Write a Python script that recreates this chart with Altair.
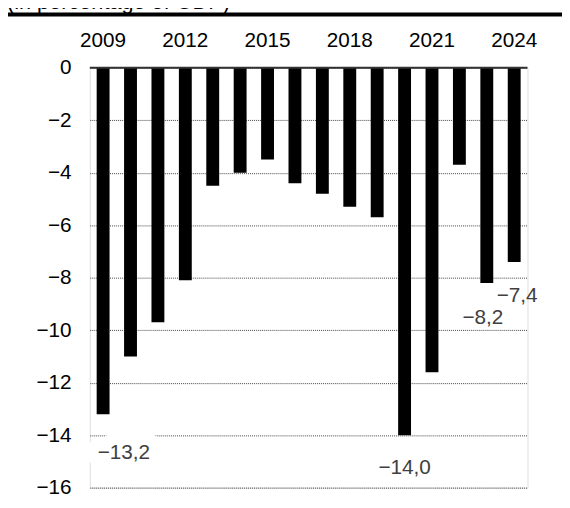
import altair as alt
import pandas as pd

# ---- data ----
years = [2009, 2010, 2011, 2012, 2013, 2014, 2015, 2016,
         2017, 2018, 2019, 2020, 2021, 2022, 2023, 2024]
values = [-13.2, -11.0, -9.7, -8.1, -4.5, -4.0, -3.5, -4.4,
          -4.8, -5.3, -5.7, -14.0, -11.6, -3.7, -8.2, -7.4]
tick_years = [2009, 2012, 2015, 2018, 2021, 2024]
y_ticks = [0, -2, -4, -6, -8, -10, -12, -14, -16]
label_years = [2009, 2020, 2023, 2024]
label_values = [-13.2, -14.0, -8.2, -7.4]
label_texts = ["\u221213,2", "\u221214,0", "\u22128,2", "\u22127,4"]
subtitle = "(in percentage of GDP)"

df = pd.DataFrame({"year": years, "value": values})
lab = pd.DataFrame({"year": label_years, "value": label_values, "text": label_texts})
one = pd.DataFrame({"v": [0]})

FONT = "Liberation Sans"

x_enc = alt.X(
    "year:O",
    scale=alt.Scale(paddingInner=0.53, paddingOuter=0.25),
    axis=alt.Axis(orient="top", values=tick_years, title=None, domain=False,
                  ticks=False, labelAngle=0, labelPadding=17, labelFontSize=21,
                  labelColor="black", labelFont=FONT),
)
y_enc = alt.Y(
    "value:Q",
    scale=alt.Scale(domain=[-16, 0], nice=False, zero=False),
    axis=alt.Axis(values=y_ticks, title=None, domain=False, ticks=False,
                  tickSize=0, labelPadding=19, grid=True, gridDash=[1, 1],
                  gridColor="#444444", gridWidth=1, labelFontSize=21,
                  labelColor="black", labelFont=FONT),
)

bars = alt.Chart(df).mark_bar(color="black").encode(x=x_enc, y=y_enc)

zero_line = alt.Chart(one).mark_rule(color="#333333", strokeWidth=2).encode(
    y=alt.Y("v:Q")
)


def label_layer(yr, dx, dy, halo=False):
    props = dict(align="center", baseline="alphabetic", dx=dx, dy=dy,
                 fontSize=21, font=FONT)
    if halo:
        props.update(color="white", stroke="white", strokeWidth=26,
                     strokeJoin="round")
    else:
        props.update(color="#404040")
    return (
        alt.Chart(lab)
        .transform_filter(alt.datum.year == yr)
        .mark_text(**props)
        .encode(x=alt.X("year:O"), y=alt.Y("value:Q"), text="text:N")
    )


labels = [
    label_layer(2009, 21, 46, halo=True),
    label_layer(2009, 21, 46),
    label_layer(2020, 0, 39),
    label_layer(2023, -4, 42),
    label_layer(2024, 3, 41),
]

top_rule = alt.Chart(one).mark_rule(color="black", strokeWidth=4).encode(
    x=alt.value(-83), x2=alt.value(479), y=alt.value(-54)
)

title_text = alt.Chart(one).mark_text(
    align="left", baseline="alphabetic", fontSize=22, font=FONT, color="black"
).encode(x=alt.value(-84), y=alt.value(-60), text=alt.value(subtitle))

chart = (
    alt.layer(bars, zero_line, *labels, top_rule, title_text)
    .properties(
        width=444,
        height=426,
        padding={"left": 83, "top": 57, "right": 35, "bottom": 10},
        autosize=alt.AutoSizeParams(type="none"),
        background="white",
    )
    .configure_view(stroke=None)
    .configure(font=FONT)
)

chart.save("out.html", embed_options={"renderer": "svg", "actions": False})
